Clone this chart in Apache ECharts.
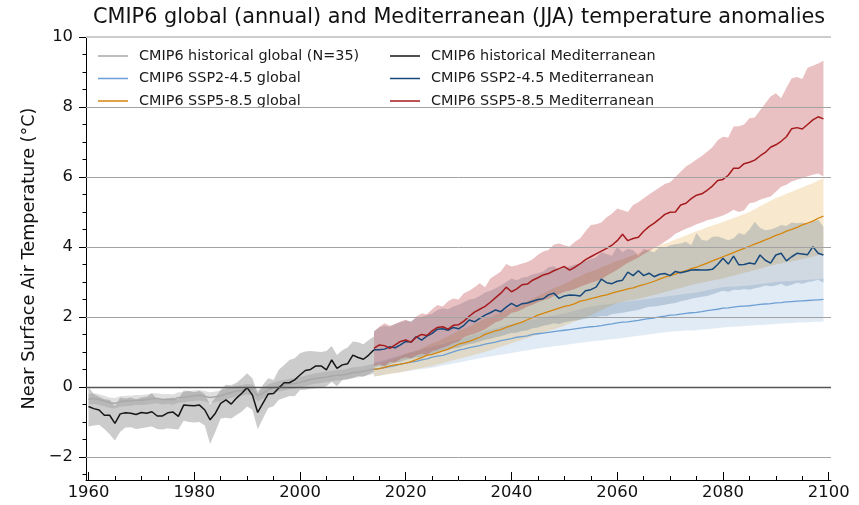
<!DOCTYPE html>
<html>
<head>
<meta charset="utf-8">
<script src="https://cdn.jsdelivr.net/npm/echarts@6/dist/echarts.min.js"></script>
<style>
  html, body { margin: 0; padding: 0; background: #fff; }
  #chart { width: 859px; height: 505px; }
</style>
</head>
<body>
<div id="chart"></div>
<script>
// ---- time axes ----
const histStart = 1960;   // historical runs: 1960-2014
const futStart = 2014;    // scenario runs: 2014-2099

// ---- historical, global annual mean (multi-model mean and spread) ----
const histGlobal = [-0.35,-0.33,-0.36,-0.40,-0.45,-0.47,-0.42,-0.40,-0.40,-0.38,
  -0.38,-0.37,-0.33,-0.33,-0.36,-0.35,-0.37,-0.30,-0.30,-0.27,
  -0.25,-0.24,-0.27,-0.30,-0.28,-0.25,-0.20,-0.16,-0.12,-0.10,
  -0.07,-0.08,-0.25,-0.18,-0.08,-0.02,0.02,0.05,0.08,0.10,
  0.13,0.17,0.21,0.24,0.26,0.28,0.31,0.33,0.34,0.37,
  0.41,0.42,0.45,0.48,0.52];
const histGlobalLo = [-0.50,-0.49,-0.52,-0.55,-0.60,-0.62,-0.57,-0.55,-0.54,-0.52,
  -0.52,-0.51,-0.48,-0.47,-0.50,-0.49,-0.51,-0.45,-0.44,-0.42,
  -0.40,-0.39,-0.42,-0.46,-0.43,-0.40,-0.35,-0.31,-0.27,-0.25,
  -0.22,-0.24,-0.42,-0.33,-0.23,-0.17,-0.13,-0.10,-0.07,-0.05,
  -0.02,0.02,0.06,0.09,0.11,0.13,0.16,0.18,0.19,0.22,
  0.26,0.27,0.30,0.33,0.37];
const histGlobalHi = [-0.20,-0.18,-0.21,-0.25,-0.30,-0.32,-0.27,-0.25,-0.25,-0.23,
  -0.23,-0.22,-0.18,-0.18,-0.21,-0.20,-0.22,-0.15,-0.15,-0.12,
  -0.10,-0.09,-0.12,-0.15,-0.13,-0.10,-0.05,-0.01,0.03,0.05,
  0.08,0.07,-0.09,-0.03,0.07,0.13,0.17,0.20,0.23,0.25,
  0.28,0.32,0.36,0.39,0.41,0.43,0.46,0.48,0.49,0.52,
  0.56,0.57,0.60,0.63,0.67];

// ---- historical, Mediterranean JJA ----
const histMed = [-0.56,-0.62,-0.66,-0.81,-0.81,-1.04,-0.77,-0.74,-0.75,-0.79,
  -0.73,-0.75,-0.71,-0.83,-0.83,-0.74,-0.72,-0.84,-0.52,-0.53,
  -0.54,-0.52,-0.66,-0.94,-0.75,-0.47,-0.37,-0.49,-0.32,-0.18,
  -0.02,-0.23,-0.73,-0.46,-0.20,-0.19,-0.03,0.12,0.12,0.20,
  0.34,0.47,0.50,0.60,0.60,0.49,0.77,0.53,0.63,0.66,
  0.91,0.84,0.79,0.91,1.06];
const histMedLo = [-1.13,-1.10,-1.08,-1.20,-1.35,-1.53,-1.28,-1.16,-1.15,-1.20,
  -1.18,-1.15,-1.13,-1.20,-1.22,-1.18,-1.20,-1.22,-0.97,-1.00,
  -1.02,-1.00,-1.10,-1.63,-1.28,-0.90,-0.88,-0.90,-0.80,-0.70,
  -0.56,-0.65,-1.21,-0.90,-0.60,-0.55,-0.37,-0.32,-0.26,-0.27,
  -0.09,-0.08,-0.05,-0.04,-0.02,0.02,0.15,0.02,0.20,0.22,
  0.25,0.31,0.30,0.36,0.44];
const histMedHi = [0.00,-0.20,-0.28,-0.35,-0.37,-0.55,-0.30,-0.33,-0.30,-0.36,
  -0.30,-0.28,-0.18,-0.35,-0.35,-0.33,-0.30,-0.35,-0.10,-0.12,
  -0.15,-0.12,-0.20,-0.50,-0.30,-0.08,0.06,0.05,0.12,0.25,
  0.39,0.25,-0.18,0.06,0.25,0.20,0.49,0.63,0.77,0.82,
  0.96,1.01,1.03,1.01,1.00,1.03,1.17,0.91,1.05,1.13,
  1.30,1.28,1.22,1.34,1.44];

// ---- SSP2-4.5, global annual mean ----
const ssp245Global = [0.50,0.52,0.55,0.58,0.61,0.65,0.68,0.71,0.73,0.77,
  0.80,0.85,0.88,0.90,0.95,1.00,1.05,1.08,1.12,1.15,
  1.18,1.22,1.25,1.28,1.32,1.35,1.38,1.42,1.44,1.46,
  1.50,1.52,1.54,1.56,1.58,1.60,1.62,1.64,1.66,1.68,
  1.70,1.72,1.73,1.75,1.78,1.80,1.83,1.85,1.86,1.88,
  1.90,1.93,1.95,1.97,2.00,2.02,2.05,2.06,2.08,2.10,
  2.12,2.13,2.15,2.18,2.20,2.22,2.25,2.26,2.28,2.30,
  2.31,2.32,2.34,2.36,2.37,2.38,2.40,2.41,2.43,2.44,
  2.45,2.46,2.47,2.48,2.49,2.50];
const ssp245GlobalLo = [0.30,0.32,0.35,0.38,0.40,0.42,0.45,0.47,0.49,0.51,
  0.53,0.55,0.58,0.61,0.64,0.67,0.70,0.73,0.76,0.79,
  0.82,0.85,0.87,0.90,0.92,0.95,0.97,1.00,1.02,1.05,
  1.07,1.10,1.12,1.14,1.16,1.18,1.20,1.22,1.24,1.26,
  1.28,1.30,1.32,1.33,1.35,1.36,1.38,1.40,1.42,1.44,
  1.46,1.48,1.50,1.52,1.54,1.56,1.58,1.59,1.60,1.61,
  1.61,1.62,1.64,1.65,1.67,1.68,1.70,1.71,1.72,1.73,
  1.74,1.75,1.76,1.77,1.78,1.79,1.80,1.81,1.82,1.83,
  1.84,1.84,1.85,1.86,1.86,1.87];
const ssp245GlobalHi = [0.70,0.73,0.77,0.82,0.86,0.90,0.95,0.99,1.03,1.07,
  1.11,1.15,1.19,1.23,1.27,1.31,1.35,1.40,1.45,1.50,
  1.55,1.60,1.64,1.68,1.72,1.76,1.80,1.83,1.86,1.89,
  1.92,1.95,1.98,2.01,2.04,2.07,2.10,2.14,2.18,2.22,
  2.26,2.30,2.32,2.34,2.36,2.38,2.40,2.42,2.44,2.46,
  2.48,2.50,2.52,2.54,2.56,2.58,2.60,2.62,2.64,2.66,
  2.68,2.70,2.73,2.76,2.79,2.82,2.85,2.86,2.87,2.88,
  2.89,2.90,2.92,2.94,2.96,2.98,3.00,3.01,3.02,3.03,
  3.04,3.05,3.06,3.07,3.08,3.10];

// ---- SSP5-8.5, global annual mean ----
const ssp585Global = [0.50,0.52,0.56,0.60,0.63,0.65,0.68,0.72,0.78,0.84,
  0.90,0.93,0.98,1.03,1.08,1.15,1.22,1.26,1.30,1.36,
  1.42,1.50,1.55,1.60,1.64,1.70,1.75,1.80,1.85,1.92,
  1.98,2.05,2.10,2.15,2.20,2.25,2.30,2.33,2.38,2.45,
  2.48,2.52,2.56,2.60,2.63,2.68,2.72,2.76,2.80,2.83,
  2.88,2.92,2.97,3.02,3.08,3.14,3.18,3.22,3.28,3.32,
  3.38,3.42,3.48,3.54,3.60,3.66,3.72,3.78,3.84,3.90,
  3.96,4.02,4.08,4.14,4.20,4.26,4.33,4.38,4.45,4.50,
  4.56,4.63,4.68,4.74,4.82,4.88];
const ssp585GlobalLo = [0.30,0.32,0.35,0.37,0.40,0.42,0.45,0.48,0.51,0.54,
  0.57,0.60,0.64,0.68,0.72,0.76,0.80,0.84,0.88,0.92,
  0.96,1.00,1.05,1.10,1.15,1.20,1.25,1.30,1.35,1.40,
  1.45,1.50,1.55,1.60,1.65,1.70,1.75,1.81,1.87,1.93,
  1.99,2.05,2.12,2.19,2.26,2.33,2.40,2.43,2.46,2.49,
  2.52,2.55,2.59,2.63,2.67,2.71,2.75,2.79,2.83,2.87,
  2.91,2.95,2.98,3.01,3.04,3.07,3.10,3.14,3.18,3.22,
  3.26,3.30,3.34,3.38,3.42,3.46,3.50,3.53,3.56,3.59,
  3.62,3.65,3.69,3.72,3.76,3.80];
const ssp585GlobalHi = [0.65,0.68,0.72,0.77,0.82,0.88,0.95,0.99,1.04,1.10,
  1.18,1.25,1.30,1.38,1.45,1.52,1.60,1.66,1.72,1.80,
  1.88,1.95,2.00,2.06,2.12,2.20,2.25,2.32,2.38,2.45,
  2.52,2.60,2.66,2.74,2.82,2.88,2.95,3.02,3.10,3.16,
  3.24,3.30,3.35,3.42,3.48,3.54,3.60,3.65,3.71,3.76,
  3.82,3.88,3.93,3.98,4.04,4.09,4.15,4.21,4.27,4.33,
  4.39,4.45,4.50,4.56,4.61,4.66,4.71,4.77,4.83,4.88,
  4.94,5.00,5.08,5.16,5.24,5.32,5.40,5.45,5.52,5.58,
  5.64,5.70,5.76,5.82,5.90,5.96];

// ---- SSP2-4.5, Mediterranean JJA ----
const ssp245Med = [1.06,1.06,1.08,1.15,1.12,1.20,1.30,1.28,1.44,1.34,
  1.45,1.53,1.65,1.66,1.62,1.70,1.66,1.76,1.91,1.86,
  1.96,2.05,2.12,2.20,2.15,2.28,2.39,2.30,2.38,2.40,
  2.45,2.50,2.52,2.63,2.68,2.53,2.60,2.63,2.62,2.60,
  2.75,2.78,2.85,3.08,2.98,2.95,3.02,3.05,3.28,3.18,
  3.32,3.18,3.25,3.15,3.22,3.24,3.18,3.30,3.26,3.30,
  3.34,3.35,3.34,3.34,3.36,3.50,3.68,3.51,3.74,3.49,
  3.50,3.54,3.51,3.77,3.62,3.54,3.77,3.82,3.60,3.72,
  3.82,3.80,3.78,4.01,3.82,3.77];
const ssp245MedLo = [0.55,0.60,0.58,0.65,0.70,0.72,0.78,0.80,0.85,0.82,
  0.90,0.95,1.00,1.02,1.05,1.10,1.12,1.18,1.22,1.25,
  1.30,1.35,1.38,1.42,1.45,1.50,1.54,1.55,1.60,1.62,
  1.68,1.70,1.75,1.78,1.82,1.80,1.85,1.88,1.90,1.92,
  1.95,1.98,2.00,2.03,2.02,2.08,2.10,2.12,2.15,2.18,
  2.20,2.25,2.29,2.30,2.32,2.35,2.38,2.40,2.45,2.48,
  2.52,2.55,2.58,2.60,2.65,2.70,2.75,2.72,2.78,2.77,
  2.80,2.78,2.82,2.85,2.90,2.88,2.90,2.95,2.88,2.92,
  2.98,2.95,3.00,3.02,3.06,2.98];
const ssp245MedHi = [1.60,1.70,1.75,1.72,1.80,1.85,1.90,1.88,1.98,2.00,
  2.05,2.10,2.20,2.25,2.22,2.30,2.35,2.42,2.50,2.52,
  2.60,2.70,2.75,2.82,2.90,3.00,3.10,3.05,3.12,3.15,
  3.22,3.25,3.30,3.42,3.45,3.35,3.40,3.45,3.50,3.52,
  3.60,3.65,3.70,3.85,3.80,3.75,4.01,3.85,3.95,3.91,
  3.75,3.95,3.90,3.85,4.00,3.98,4.05,4.08,4.10,4.15,
  4.05,4.40,4.20,4.18,4.29,4.30,4.25,4.19,4.25,4.40,
  4.35,4.50,4.72,4.55,4.48,4.50,4.55,4.63,4.60,4.70,
  4.68,4.70,4.65,4.72,4.78,4.58];

// ---- SSP5-8.5, Mediterranean JJA ----
const ssp585Med = [1.10,1.20,1.18,1.10,1.20,1.30,1.34,1.28,1.42,1.50,
  1.47,1.60,1.70,1.72,1.65,1.76,1.78,1.88,2.02,2.14,
  2.22,2.30,2.42,2.55,2.68,2.85,2.72,2.80,2.92,2.94,
  3.05,3.12,3.20,3.24,3.32,3.38,3.44,3.34,3.42,3.52,
  3.64,3.72,3.80,3.88,3.96,4.05,4.18,4.36,4.18,4.24,
  4.28,4.45,4.58,4.68,4.80,4.93,4.99,5.00,5.20,5.25,
  5.38,5.48,5.52,5.62,5.74,5.90,5.93,6.05,6.25,6.25,
  6.38,6.42,6.48,6.60,6.70,6.85,6.92,7.02,7.15,7.38,
  7.41,7.37,7.50,7.63,7.72,7.66];
const ssp585MedLo = [0.60,0.65,0.60,0.72,0.70,0.80,0.85,0.82,0.90,0.95,
  0.92,1.02,1.06,1.12,1.18,1.25,1.30,1.42,1.48,1.52,
  1.58,1.65,1.75,1.85,1.90,2.00,2.12,2.15,2.22,2.30,
  2.35,2.42,2.48,2.52,2.60,2.65,2.72,2.75,2.80,2.86,
  2.92,2.98,3.02,3.08,3.18,3.26,3.35,3.45,3.55,3.62,
  3.70,3.80,3.88,3.98,4.05,4.15,4.25,4.38,4.45,4.52,
  4.58,4.65,4.70,4.76,4.80,4.85,4.90,4.97,5.06,5.00,
  5.05,5.25,5.28,5.35,5.40,5.44,5.58,5.72,5.78,5.87,
  5.92,5.96,6.02,6.06,6.10,6.01];
const ssp585MedHi = [1.58,1.72,1.82,1.75,1.80,1.87,1.92,1.85,2.01,2.10,
  2.08,2.22,2.34,2.30,2.45,2.53,2.50,2.68,2.75,2.85,
  2.96,2.85,3.10,3.20,3.30,3.51,3.44,3.48,3.53,3.57,
  3.65,3.78,3.87,3.91,4.06,4.10,4.05,4.01,4.15,4.25,
  4.45,4.63,4.65,4.70,4.85,4.95,5.10,5.05,5.00,5.20,
  5.28,5.39,5.50,5.60,5.70,5.80,5.85,6.00,6.15,6.30,
  6.39,6.50,6.60,6.72,6.85,7.05,7.15,7.13,7.44,7.45,
  7.50,7.68,7.70,7.90,8.10,8.30,8.39,8.25,8.55,8.82,
  8.86,8.80,9.12,9.18,9.24,9.32];

// ---- axis ticks ----
const yTicks = [-2, 0, 2, 4, 6, 8, 10];
const yMinorTicks = [-2.5,-1.5,-1,-0.5,0.5,1,1.5,2.5,3,3.5,4.5,5,5.5,6.5,7,7.5,8.5,9,9.5];
const xTicks = [1960, 1980, 2000, 2020, 2040, 2060, 2080, 2100];
const xMinorTicks = [1965,1970,1975,1985,1990,1995,2005,2010,2015,2025,2030,2035,
  2045,2050,2055,2065,2070,2075,2085,2090,2095];

// ---- legend labels ----
const names = {
  histGlobal: 'CMIP6 historical global (N=35)',
  ssp245Global: 'CMIP6 SSP2-4.5 global',
  ssp585Global: 'CMIP6 SSP5-8.5 global',
  histMed: 'CMIP6 historical Mediterranean',
  ssp245Med: 'CMIP6 SSP2-4.5 Mediterranean',
  ssp585Med: 'CMIP6 SSP5-8.5 Mediterranean'
};

const FONT = '"DejaVu Sans", "Liberation Sans", sans-serif';

function yearsFrom(start, n) {
  const out = [];
  for (let i = 0; i < n; i++) out.push(start + i);
  return out;
}
const histYears = yearsFrom(histStart, histMed.length);
const futYears = yearsFrom(futStart, ssp585Med.length);

function pairs(years, vals) {
  return years.map((y, i) => [y, vals[i]]);
}

// shaded spread between a lower and an upper curve
function band(years, lo, hi, fill, z) {
  return {
    type: 'custom',
    silent: true,
    z: z,
    xAxisIndex: 0,
    yAxisIndex: 0,
    data: years.map((y, i) => [y, lo[i], hi[i]]),
    encode: { x: 0, y: [1, 2] },
    renderItem: function (params, api) {
      if (params.dataIndex !== 0) return null;
      const pts = [];
      for (let i = 0; i < years.length; i++) pts.push(api.coord([years[i], hi[i]]));
      for (let i = years.length - 1; i >= 0; i--) pts.push(api.coord([years[i], lo[i]]));
      return { type: 'polygon', shape: { points: pts }, style: { fill: fill } };
    }
  };
}

function line(name, years, vals, color, width, z) {
  return {
    type: 'line',
    name: name,
    z: z,
    xAxisIndex: 0,
    yAxisIndex: 0,
    data: pairs(years, vals),
    showSymbol: false,
    symbol: 'none',
    silent: true,
    lineStyle: { color: color, width: width },
    itemStyle: { color: color }
  };
}

const C = {
  histGlobal: '#a8a8a8',
  histMed: '#161616',
  ssp245Global: '#6c9fd3',
  ssp585Global: '#d5860c',
  ssp245Med: '#17497c',
  ssp585Med: '#a51b1d'
};

const gridLines = {
  type: 'line',
  name: 'grid',
  z: 0,
  xAxisIndex: 0,
  yAxisIndex: 0,
  data: [],
  silent: true,
  markLine: {
    silent: true,
    symbol: ['none', 'none'],
    label: { show: false },
    animation: false,
    data: [
      { yAxis: 10, lineStyle: { color: '#cccccc', width: 2, type: 'solid' } },
      { yAxis: 8, lineStyle: { color: '#a3a3a3', width: 1, type: 'solid' } },
      { yAxis: 6, lineStyle: { color: '#a3a3a3', width: 1, type: 'solid' } },
      { yAxis: 4, lineStyle: { color: '#a3a3a3', width: 1, type: 'solid' } },
      { yAxis: 2, lineStyle: { color: '#a3a3a3', width: 1, type: 'solid' } },
      { yAxis: 0, lineStyle: { color: '#555555', width: 1.3, type: 'solid' } },
      { yAxis: -2, lineStyle: { color: '#a3a3a3', width: 1, type: 'solid' } }
    ]
  }
};

const series = [
  gridLines,
  band(histYears, histGlobalLo, histGlobalHi, 'rgba(140,140,140,0.28)', 1),
  band(histYears, histMedLo, histMedHi, 'rgba(120,120,120,0.38)', 1),
  band(futYears, ssp245GlobalLo, ssp245GlobalHi, 'rgba(120,165,215,0.22)', 1),
  band(futYears, ssp585GlobalLo, ssp585GlobalHi, 'rgba(225,165,60,0.25)', 1),
  band(futYears, ssp245MedLo, ssp245MedHi, 'rgba(40,80,125,0.22)', 1),
  band(futYears, ssp585MedLo, ssp585MedHi, 'rgba(180,40,45,0.29)', 1),
  line(names.histGlobal, histYears, histGlobal, C.histGlobal, 1.5, 3),
  line(names.histMed, histYears, histMed, C.histMed, 1.5, 3),
  line(names.ssp245Global, futYears, ssp245Global, C.ssp245Global, 1.3, 3),
  line(names.ssp585Global, futYears, ssp585Global, C.ssp585Global, 1.3, 3),
  line(names.ssp245Med, futYears, ssp245Med, C.ssp245Med, 1.5, 3),
  line(names.ssp585Med, futYears, ssp585Med, C.ssp585Med, 1.5, 3)
];

const legendCommon = {
  orient: 'vertical',
  top: 48,
  padding: 0,
  itemWidth: 30,
  itemHeight: 14,
  itemGap: 6.5,
  icon: 'path://M0,0 L30,0 L30,1.5 L0,1.5 Z',
  selectedMode: false,
  textStyle: { fontFamily: FONT, fontSize: 14.4, color: '#1a1a1a', lineHeight: 16, padding: [0, 0, 0, 6] }
};

const minus = v => (v < 0 ? '\u2212' + Math.abs(v) : String(v));

const option = {
  animation: false,
  backgroundColor: '#ffffff',
  title: {
    text: 'CMIP6 global (annual) and Mediterranean (JJA) temperature anomalies',
    left: 93,
    top: 7,
    padding: 0,
    textStyle: { fontFamily: FONT, fontSize: 20.8, fontWeight: 'normal', color: '#111' }
  },
  legend: [
    Object.assign({}, legendCommon, {
      left: 98,
      data: [names.histGlobal, names.ssp245Global, names.ssp585Global]
    }),
    Object.assign({}, legendCommon, {
      left: 390,
      data: [names.histMed, names.ssp245Med, names.ssp585Med]
    })
  ],
  grid: { left: 86, right: 28, top: 37, bottom: 25, containLabel: false, outerBoundsMode: 'none' },
  xAxis: [
    {
      type: 'value', position: 'bottom', min: 1959.53, max: 2100.43,
      axisLine: { show: true, onZero: false, lineStyle: { color: '#000', width: 1 } },
      axisTick: { show: true, inside: true, length: 8, customValues: xTicks, lineStyle: { color: '#000', width: 1 } },
      axisLabel: { show: true, customValues: xTicks, margin: 5, fontFamily: FONT, fontSize: 16.4, color: '#111', formatter: v => String(v) },
      splitLine: { show: false }
    },
    {
      type: 'value', position: 'bottom', min: 1959.53, max: 2100.43,
      axisLine: { show: false, onZero: false },
      axisTick: { show: true, inside: true, length: 4, customValues: xMinorTicks, lineStyle: { color: '#000', width: 1 } },
      axisLabel: { show: false },
      splitLine: { show: false }
    }
  ],
  yAxis: [
    {
      type: 'value', position: 'left', min: -2.66, max: 10,
      name: 'Near Surface Air Temperature (°C)',
      nameLocation: 'middle',
      nameGap: 40,
      nameTextStyle: { fontFamily: FONT, fontSize: 17.6, color: '#111' },
      axisLine: { show: true, onZero: false, lineStyle: { color: '#000', width: 1 } },
      axisTick: { show: true, inside: false, length: 7, customValues: yTicks, lineStyle: { color: '#000', width: 1 } },
      axisLabel: { show: true, customValues: yTicks, margin: 13, fontFamily: FONT, fontSize: 16.4, color: '#111', formatter: minus },
      splitLine: { show: false }
    },
    {
      type: 'value', position: 'left', min: -2.66, max: 10,
      axisLine: { show: false, onZero: false },
      axisTick: { show: true, inside: false, length: 3.5, customValues: yMinorTicks, lineStyle: { color: '#000', width: 1 } },
      axisLabel: { show: false },
      splitLine: { show: false }
    }
  ],
  series: series
};

const chart = echarts.init(document.getElementById('chart'), null, { renderer: 'canvas' });
chart.setOption(option);
</script>
</body>
</html>
